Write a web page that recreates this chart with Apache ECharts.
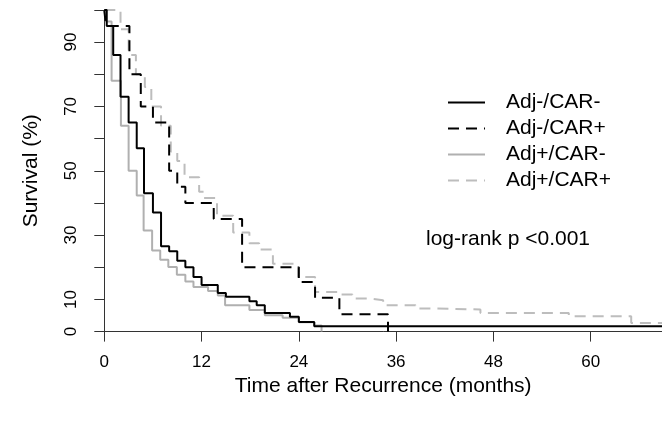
<!DOCTYPE html>
<html><head><meta charset="utf-8">
<script src="https://cdn.jsdelivr.net/npm/echarts@6/dist/echarts.min.js"></script>
<style>html,body{margin:0;padding:0;background:#fff}#c{width:662px;height:421px}</style>
</head><body><div id="c"></div>
<script>
// Series names (legend order)
const seriesNames = ['Adj-/CAR-', 'Adj-/CAR+', 'Adj+/CAR-', 'Adj+/CAR+'];

// Adj-/CAR- (black solid)
const timeNegNeg = [0, 0.3, 1.1, 2.0, 3.0, 4.0, 4.9, 6.0, 7.0, 8.0, 9.0, 10.0, 11.0, 12.0, 14.0, 15.0, 17.9, 18.8, 19.8, 22.9, 24.0, 25.9, 68.8];
const survNegNeg = [100, 95, 86, 73, 65, 57, 43, 37, 26.5, 25, 22, 20, 17, 14.5, 12, 10.8, 9.4, 8.2, 5.8, 4.6, 3.0, 1.7, 1.7];

// Adj-/CAR+ (black dashed)
const timeNegPos = [0, 0.2, 3.1, 4.5, 6.0, 8.0, 9.0, 10.0, 13.5, 17.0, 24.0, 26.0, 29.0, 35.0];
const survNegPos = [100, 95, 80, 70, 65, 50, 45, 40, 35, 20, 15.4, 10.5, 5.4, 0];

// Adj+/CAR- (grey solid)
const timePosNeg = [0, 0.2, 0.9, 2.05, 3.0, 4.0, 4.85, 5.9, 6.9, 7.9, 8.95, 10.0, 11.0, 12.8, 14.0, 14.9, 17.9, 19.8, 22.0, 24.0, 25.9, 26.8];
const survPosNeg = [100, 96.4, 78, 64, 50, 42.3, 31.4, 25.2, 22.3, 20.1, 17.7, 15.6, 13.9, 12.6, 11.2, 8.2, 6.7, 5.1, 4.3, 2.9, 1.9, 0];

// Adj+/CAR+ (grey dashed)
const timePosPos = [0, 2.0, 3.0, 3.9, 5.0, 5.8, 7.0, 8.2, 9.0, 9.9, 11.7, 12.3, 13.9, 15.9, 17.9, 19.1, 20.8, 23.9, 26.0, 28.9, 30.6, 32.6, 34.4, 38.4, 40.0, 46.4, 57.3, 65.0, 68.8];
const survPosPos = [100, 94, 86, 80, 76, 70, 64, 56, 53, 48, 43.5, 41.5, 36, 30.8, 27.5, 25.5, 21.1, 17, 12.3, 11.5, 10.3, 9.75, 8.2, 7.2, 6.9, 5.8, 4.8, 2.7, 2.7];

// Axis ticks
const xTicks = [0, 12, 24, 36, 48, 60];
const yTicks = [0, 10, 20, 30, 40, 50, 60, 70, 80, 90, 100];
const yTickLabels = [0, 10, 30, 50, 70, 90];

const pairs = (t, s) => t.map((v, i) => [v, s[i]]);
const FONT = 'Liberation Sans, Arial, sans-serif';

const chart = echarts.init(document.getElementById('c'), null, {renderer: 'canvas'});
const mk = (name, t, s, color, type, z) => ({
  name, type: 'line', step: 'end', symbol: 'none', z,
  data: pairs(t, s),
  lineStyle: {color, width: 2, type},
  itemStyle: {color},
  emphasis: {disabled: true},
  animation: false
});

chart.setOption({
  animation: false,
  backgroundColor: '#fff',
  grid: {left: 104.3, right: 0, top: 9.9, bottom: 89.4, containLabel: false},
  xAxis: {
    type: 'value', min: 0, max: 68.8, interval: 12,
    name: 'Time after Recurrence (months)', nameLocation: 'middle', nameGap: 35,
    nameTextStyle: {fontFamily: FONT, fontSize: 21, color: '#000'},
    axisLine: {show: true, lineStyle: {color: '#333', width: 1}},
    axisTick: {show: true, length: 10, customValues: xTicks, lineStyle: {color: '#333'}},
    axisLabel: {customValues: xTicks, margin: 22, fontFamily: FONT, fontSize: 17, color: '#000'},
    splitLine: {show: false}
  },
  yAxis: {
    type: 'value', min: 0, max: 100, interval: 10,
    name: 'Survival (%)', nameLocation: 'middle', nameGap: 63,
    nameTextStyle: {fontFamily: FONT, fontSize: 21, color: '#000'},
    axisLine: {show: true, lineStyle: {color: '#333', width: 1}},
    axisTick: {show: true, length: 10, customValues: yTicks, lineStyle: {color: '#333'}},
    axisLabel: {customValues: yTickLabels, rotate: 90, margin: 24, fontFamily: FONT, fontSize: 17, color: '#000'},
    splitLine: {show: false}
  },
  legend: {
    data: seriesNames, orient: 'vertical', left: 447, top: 92, padding: 0,
    itemWidth: 37, itemHeight: 14, itemGap: 5,
    itemStyle: {opacity: 0},
    textStyle: {fontFamily: FONT, fontSize: 21, color: '#000', lineHeight: 21, padding: [0, 0, 0, 16]},
    selectedMode: false
  },
  graphic: [{
    type: 'text', left: 426, top: 229,
    style: {text: 'log-rank p <0.001', fontFamily: FONT, fontSize: 21, fill: '#000'}
  }],
  series: [
    mk(seriesNames[0], timeNegNeg, survNegNeg, '#000000', 'solid', 4),
    mk(seriesNames[1], timeNegPos, survNegPos, '#000000', [11, 7], 4),
    mk(seriesNames[2], timePosNeg, survPosNeg, '#b0b0b0', 'solid', 3),
    mk(seriesNames[3], timePosPos, survPosPos, '#bdbdbd', [11, 7], 2)
  ]
});
</script></body></html>
